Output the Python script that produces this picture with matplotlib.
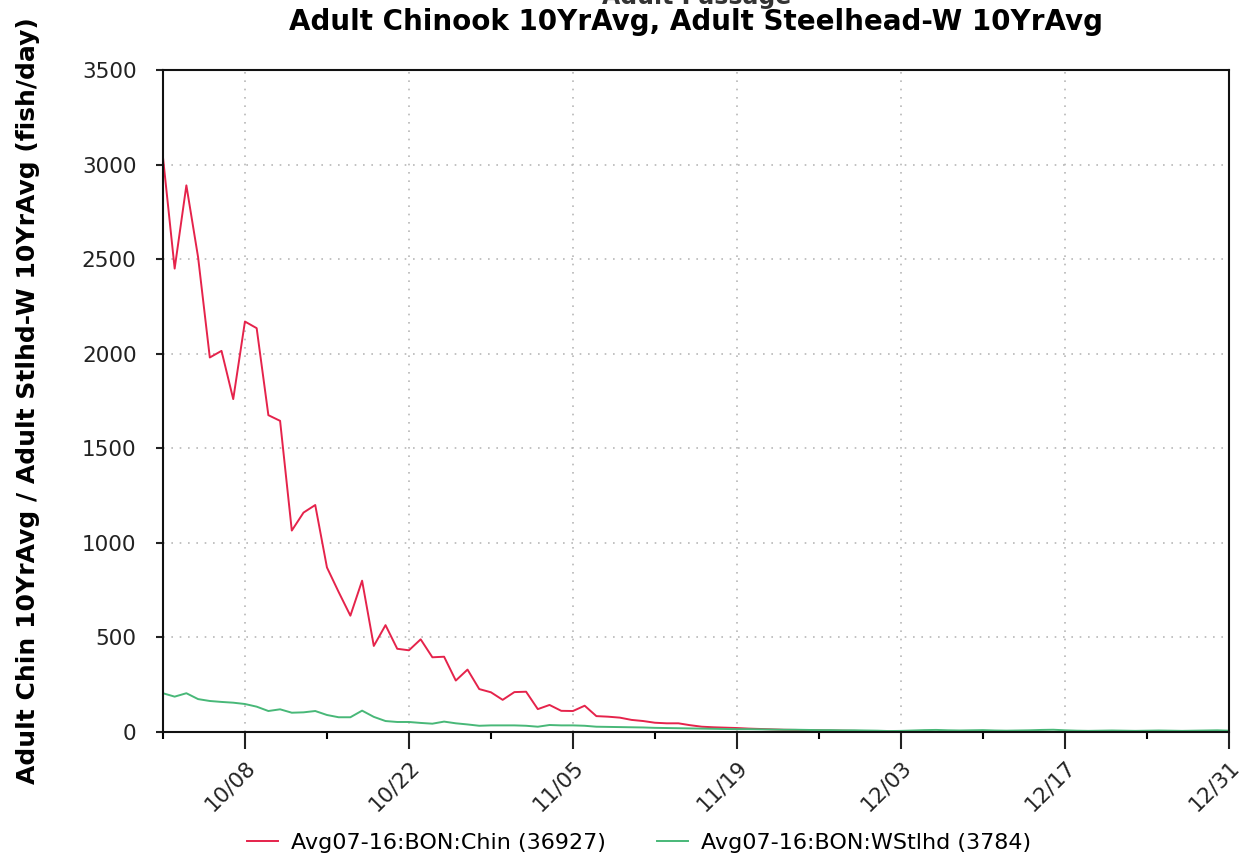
import datetime as dt

import matplotlib

matplotlib.use("Agg")
import matplotlib.dates as mdates
from matplotlib import pyplot as plt

# daily 10-year averages, Bonneville, 10/01 .. 12/31
start = dt.date(2017, 10, 1)
chinook = [
    3040, 2450, 2890, 2510, 1980, 2015, 1760, 2170, 2135, 1675,
    1645, 1065, 1160, 1200, 870, 740, 615, 800, 455, 565,
    440, 432, 490, 395, 398, 272, 330, 227, 210, 170,
    211, 213, 121, 143, 112, 111, 139, 84, 81, 76,
    64, 58, 49, 46, 46, 36, 28, 25, 23, 21,
    18, 16, 14, 12, 11, 10, 9, 8, 7, 6,
    5, 5, 4, 3, 2, 1, 0, 1, 0, 1,
    2, 1, 0, 1, 2, 1, 0, 0, 1, 0,
    0, 1, 2, 1, 0, 1, 1, 0, 1, 2,
    1, 0,
]
steelhead = [
    205, 187, 205, 174, 164, 159, 155, 148, 134, 111,
    120, 102, 104, 111, 90, 78, 78, 113, 80, 58,
    53, 53, 48, 44, 55, 46, 40, 33, 35, 35,
    35, 33, 28, 37, 35, 35, 33, 28, 27, 26,
    25, 24, 22, 21, 20, 19, 18, 17, 16, 15,
    15, 14, 13, 12, 12, 11, 10, 10, 9, 9,
    8, 7, 5, 6, 8, 10, 11, 9, 8, 9,
    10, 8, 7, 8, 9, 11, 12, 9, 7, 6,
    7, 8, 7, 6, 7, 8, 7, 6, 7, 8,
    9, 7,
]
labels = ["Avg07-16:BON:Chin (36927)", "Avg07-16:BON:WStlhd (3784)"]
colors = ["#e5234b", "#48b878"]

dates = [start + dt.timedelta(days=i) for i in range(len(chinook))]

plt.rcParams["font.family"] = "DejaVu Sans"
fig = plt.figure(figsize=(12.41, 8.67), dpi=100)
ax = fig.add_axes([0.1313, 0.1557, 0.859, 0.7636])

ax.plot(dates, chinook, color=colors[0], lw=1.4, label=labels[0])
ax.plot(dates, steelhead, color=colors[1], lw=1.4, label=labels[1])

ax.set_xlim(dates[0], dates[-1])
ax.set_ylim(0, 3500)
ax.set_yticks(range(0, 3501, 500))

major = [dt.date(2017, 10, 8) + dt.timedelta(days=14 * k) for k in range(7)]
ax.set_xticks(major)
ax.xaxis.set_major_formatter(mdates.DateFormatter("%m/%d"))
minor = [dt.date(2017, 10, 1) + dt.timedelta(days=7 * k) for k in range(14)]
ax.set_xticks(minor, minor=True)

ax.tick_params(axis="both", labelsize=15.5, colors="#222222", width=1.5)
ax.tick_params(axis="x", which="major", length=12, pad=6)
ax.tick_params(axis="x", which="minor", length=5, width=1.5)
ax.tick_params(axis="y", length=5, pad=14)
for lab in ax.get_xticklabels():
    lab.set_rotation(45)
    lab.set_ha("right")
    lab.set_va("top")
    lab.set_rotation_mode("anchor")

ax.grid(True, which="major", color="#b8b8b8", linestyle=(0, (1, 4)), lw=1.2)
for s in ax.spines.values():
    s.set_linewidth(1.5)
    s.set_color("#111111")

ax.set_ylabel(
    "Adult Chin 10YrAvg / Adult Stlhd-W 10YrAvg (fish/day)",
    fontsize=18, fontweight="bold",
)
ax.yaxis.set_label_coords(-(163 - 40) / 1066, 0.50)

fig.text(0.561, 1 - 4 / 867, "Adult Passage", ha="center", va="baseline",
         fontsize=17, fontweight="bold", color="#333333")
fig.text(0.561, 1 - 22 / 867, "Adult Chinook 10YrAvg, Adult Steelhead-W 10YrAvg",
         ha="center", va="center", fontsize=20, fontweight="bold")

fig.legend(loc="center", bbox_to_anchor=(0.515, 1 - 843 / 867), ncol=2,
           frameon=False, fontsize=16, handlelength=1.4, handletextpad=0.6,
           columnspacing=2.3)

fig.savefig("out.png", dpi=100)
